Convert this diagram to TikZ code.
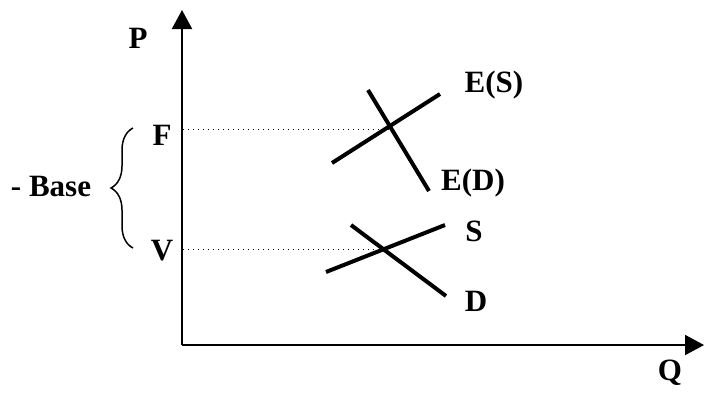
\documentclass[tikz,border=0pt]{standalone}
\usepackage{fontspec}
\setmainfont{Liberation Serif}
\usetikzlibrary{arrows.meta,decorations.pathreplacing}
\begin{document}
\begin{tikzpicture}[x=0.5pt,y=-0.5pt,
  lbl/.style={font=\fontsize{15.5}{18}\selectfont\bfseries, inner sep=0pt},
  axis/.style={line width=1pt, -{Triangle[length=9.5pt,width=10pt]}},
  curve/.style={line width=2pt},
  guide/.style={line width=0.5pt, dotted}]
\useasboundingbox (0,0) rectangle (705,392);
% axes
\coordinate (O) at (182,345);
\coordinate (ytip) at (182,10);
\coordinate (xtip) at (704,345);
\draw[axis] (O) -- (ytip);
\draw[axis] (O) -- (xtip);
\node[lbl] (P) at (138,38) {P};
\node[lbl] (Q) at (670,373) {Q};
\node[lbl] (F) at (162,135) {F};
\node[lbl] (V) at (162,251) {V};
\node[lbl] (base) at (51,186) {- Base};
% brace
\coordinate (bb) at (133,248);
\coordinate (bt) at (133,128);
\draw[line width=0.75pt, decorate, decoration={brace, amplitude=11pt}] (bb) -- (bt);
% dotted guides
\coordinate (Fa) at (183,129);
\coordinate (Fb) at (398,129);
\coordinate (Va) at (183,249);
\coordinate (Vb) at (377,249);
\draw[guide] (Fa) -- (Fb);
\draw[guide] (Va) -- (Vb);
% E(S), E(D)
\coordinate (es1) at (332,163);
\coordinate (es2) at (440,94);
\coordinate (ed1) at (368,90);
\coordinate (ed2) at (429,191);
\draw[curve] (es1) -- (es2);
\draw[curve] (ed1) -- (ed2);
\node[lbl] (ES) at (494,85) {E(S)};
\node[lbl] (ED) at (473,183) {E(D)};
% S, D
\coordinate (s1) at (326,272);
\coordinate (s2) at (445,225);
\coordinate (d1) at (351,225);
\coordinate (d2) at (446,296);
\draw[curve] (s1) -- (s2);
\draw[curve] (d1) -- (d2);
\node[lbl] (S) at (474,231) {S};
\node[lbl] (D) at (476,301) {D};
\end{tikzpicture}
\end{document}
